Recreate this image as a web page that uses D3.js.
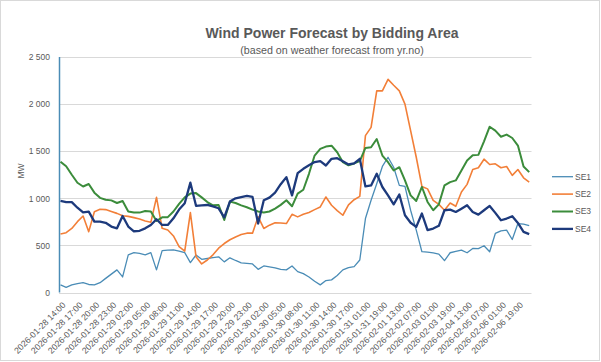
<!DOCTYPE html>
<html>
<head>
<meta charset="utf-8">
<script src="https://cdn.jsdelivr.net/npm/d3@7"></script>
<style>
  body { margin: 0; background: #fff; }
  svg { display: block; font-family: "Liberation Sans", Arial, sans-serif; }
</style>
</head>
<body>
<svg width="601" height="362"></svg>
<script>
const categories = [
  "2026-01-28 14:00", "2026-01-28 15:00", "2026-01-28 16:00", "2026-01-28 17:00", "2026-01-28 18:00",
  "2026-01-28 19:00", "2026-01-28 20:00", "2026-01-28 21:00", "2026-01-28 22:00", "2026-01-28 23:00",
  "2026-01-29 00:00", "2026-01-29 01:00", "2026-01-29 02:00", "2026-01-29 03:00", "2026-01-29 04:00",
  "2026-01-29 05:00", "2026-01-29 06:00", "2026-01-29 07:00", "2026-01-29 08:00", "2026-01-29 09:00",
  "2026-01-29 10:00", "2026-01-29 11:00", "2026-01-29 12:00", "2026-01-29 13:00", "2026-01-29 14:00",
  "2026-01-29 15:00", "2026-01-29 16:00", "2026-01-29 17:00", "2026-01-29 18:00", "2026-01-29 19:00",
  "2026-01-29 20:00", "2026-01-29 21:00", "2026-01-29 22:00", "2026-01-29 23:00", "2026-01-30 00:00",
  "2026-01-30 01:00", "2026-01-30 02:00", "2026-01-30 03:00", "2026-01-30 04:00", "2026-01-30 05:00",
  "2026-01-30 06:00", "2026-01-30 07:00", "2026-01-30 08:00", "2026-01-30 09:00", "2026-01-30 10:00",
  "2026-01-30 11:00", "2026-01-30 12:00", "2026-01-30 13:00", "2026-01-30 14:00", "2026-01-30 15:00",
  "2026-01-30 16:00", "2026-01-30 17:00", "2026-01-30 18:00", "2026-01-30 19:00",
  "2026-01-31 01:00", "2026-01-31 07:00", "2026-01-31 13:00", "2026-01-31 19:00",
  "2026-02-01 01:00", "2026-02-01 07:00", "2026-02-01 13:00", "2026-02-01 19:00",
  "2026-02-02 01:00", "2026-02-02 07:00", "2026-02-02 13:00", "2026-02-02 19:00",
  "2026-02-03 01:00", "2026-02-03 07:00", "2026-02-03 13:00", "2026-02-03 19:00",
  "2026-02-04 01:00", "2026-02-04 07:00", "2026-02-04 13:00", "2026-02-04 19:00",
  "2026-02-05 01:00", "2026-02-05 07:00", "2026-02-05 13:00", "2026-02-05 19:00",
  "2026-02-06 01:00", "2026-02-06 07:00", "2026-02-06 13:00", "2026-02-06 19:00",
  "2026-02-07 01:00", "2026-02-07 07:00"
]

const se1 = [80, 55, 80, 95, 104, 85, 80, 104, 150, 195, 240, 165, 400, 423, 415, 400, 423, 240, 444, 450,
  452, 440, 423, 317, 398, 352, 361, 370, 379, 325, 368, 340, 315, 310, 303,
  246, 282, 272, 262, 246, 240, 282, 222, 200, 165, 120, 81, 127, 134, 180, 240, 265, 275, 345,
  785, 980, 1155, 1338, 1436, 1330, 1137, 1126, 873, 662, 433, 428, 420, 408, 338, 422, 436, 450, 422,
  468, 465, 496, 433, 627, 655, 662, 563, 732, 725, 711]

const se2 = [621, 635, 680, 752, 812, 646, 858, 883, 880, 860, 840, 815, 808, 795, 780, 760, 745, 1010, 681, 664,
  600, 487, 440, 848, 380, 303, 345, 400, 470, 520, 560, 590, 615, 630, 630,
  803, 680, 715, 740, 738, 732, 830, 803, 830, 850, 880, 908, 1014, 926, 870, 820, 930, 985, 1021,
  1665, 1753, 2140, 2140, 2263, 2200, 2140, 2000, 1718, 1436, 1126, 1100, 979, 936, 873, 950, 915, 1067, 1148,
  1306, 1324, 1415, 1359, 1366, 1324, 1338, 1243, 1306, 1218, 1172]

const se3 = [1389, 1340, 1250, 1165, 1125, 1152, 1060, 1005, 985, 978, 950, 972, 860, 850, 848, 865, 860, 759, 798, 800,
  860, 940, 1010, 1050, 1055, 1010, 960, 925, 929, 770, 965, 950, 925, 905, 880,
  860, 850, 860, 890, 930, 979, 915, 1049, 1091, 1260, 1454, 1524, 1549, 1559, 1489, 1383, 1350, 1370, 1395,
  1535, 1542, 1630, 1454, 1383, 1295, 1330, 1190, 1031, 972, 1120, 961, 873, 936, 1137, 1172, 1190, 1295, 1401,
  1457, 1461, 1605, 1760, 1718, 1654, 1676, 1640, 1560, 1338, 1278]

const se4 = [972, 960, 960, 900, 850, 858, 752, 752, 740, 700, 681, 812, 700, 650, 655, 681, 717, 777, 717, 717,
  788, 880, 947, 1166, 920, 925, 929, 915, 894, 798, 965, 1000, 1012, 1025, 1015,
  732, 979, 1007, 1060, 1150, 1225, 1031, 1267, 1313, 1350, 1385, 1394, 1348, 1419, 1426, 1394, 1359, 1370, 1419,
  1126, 1137, 1260, 1120, 1031, 936, 1040, 820, 740, 697, 838, 662, 679, 708, 873, 880, 855, 890, 926,
  855, 827, 873, 919, 845, 767, 785, 810, 739, 644, 620]

const seriesNames = ["SE1", "SE2", "SE3", "SE4"]
const yTicks = [0, 500, 1000, 1500, 2000, 2500]
const yTickLabels = ["0", "500", "1 000", "1 500", "2 000", "2 500"]
const xTickLabels = categories.filter((d, i) => i % 3 === 0)

const colors = ["#4a8cb6", "#f27f38", "#3b8c3b", "#1d3a7c"]
const widths = [1.3, 1.6, 2, 2.3]
const grey = "#595959"

let svg = d3.select("svg")

svg.append("rect")
  .attr("x", 0.5).attr("y", 0.5)
  .attr("width", 599).attr("height", 360)
  .attr("fill", "#fff")
  .attr("stroke", "#d9d9d9")

let x = d3.scalePoint()
  .domain(categories)
  .range([60.5, 529.2])

let y = d3.scaleLinear()
  .domain([0, 2500])
  .range([292.5, 57])

// gridlines
svg.append("g").selectAll("line")
  .data(yTicks)
  .enter()
  .append("line")
  .attr("x1", 59).attr("x2", 531.5)
  .attr("y1", d => Math.round(y(d)) + 0.5)
  .attr("y2", d => Math.round(y(d)) + 0.5)
  .attr("stroke", "#d9d9d9")
  .attr("stroke-width", 1)

// left axis line
svg.append("line")
  .attr("x1", 59.5).attr("x2", 59.5)
  .attr("y1", y(2500)).attr("y2", y(0))
  .attr("stroke", colors[0])
  .attr("stroke-width", 1.5)

let yAxis = svg.append("g")
  .attr("transform", "translate(59,0)")
  .call(d3.axisLeft(y).tickValues(yTicks).tickFormat((d, i) => yTickLabels[i]).tickSize(0).tickPadding(9))
yAxis.select(".domain").remove()
yAxis.selectAll("text")
  .attr("fill", grey)
  .style("font-size", "8.5px")

let xAxis = svg.append("g")
  .attr("transform", "translate(0," + y(0) + ")")
  .call(d3.axisBottom(x).tickValues(xTickLabels).tickSize(0))
xAxis.select(".domain").remove()
xAxis.selectAll("text")
  .attr("x", 0).attr("y", 0).attr("dy", "0.35em")
  .attr("text-anchor", "end")
  .attr("transform", "translate(3,11) rotate(-45)")
  .attr("fill", grey)
  .style("font-size", "8.7px")

let line = d3.line()
  .x((d, i) => x(categories[i]))
  .y(d => y(d))

let allSeries = [se1, se2, se3, se4]

svg.append("g").selectAll("path")
  .data(allSeries)
  .enter()
  .append("path")
  .attr("d", line)
  .attr("fill", "none")
  .attr("stroke", (d, i) => colors[i])
  .attr("stroke-width", (d, i) => widths[i])
  .attr("stroke-linejoin", "round")

svg.append("text")
  .attr("x", 21).attr("y", 171)
  .attr("transform", "rotate(-90,21,171)")
  .attr("text-anchor", "middle")
  .attr("dy", "0.35em")
  .attr("fill", grey)
  .style("font-size", "8.5px")
  .text("MW")

svg.append("text")
  .attr("x", 332).attr("y", 38)
  .attr("text-anchor", "middle")
  .attr("fill", grey)
  .style("font-size", "14px")
  .style("font-weight", "bold")
  .text("Wind Power Forecast by Bidding Area")

svg.append("text")
  .attr("x", 332).attr("y", 54)
  .attr("text-anchor", "middle")
  .attr("fill", grey)
  .style("font-size", "10.7px")
  .text("(based on weather forecast from yr.no)")

let legend = svg.append("g").selectAll("g")
  .data(seriesNames)
  .enter()
  .append("g")
  .attr("transform", (d, i) => "translate(552," + (176.7 + i * 17.4) + ")")

legend.append("line")
  .attr("x1", 0).attr("x2", 21)
  .attr("stroke", (d, i) => colors[i])
  .attr("stroke-width", (d, i) => widths[i])

legend.append("text")
  .attr("x", 23)
  .attr("dy", "0.35em")
  .attr("fill", grey)
  .style("font-size", "8.5px")
  .text(d => d)
</script>
</body>
</html>
